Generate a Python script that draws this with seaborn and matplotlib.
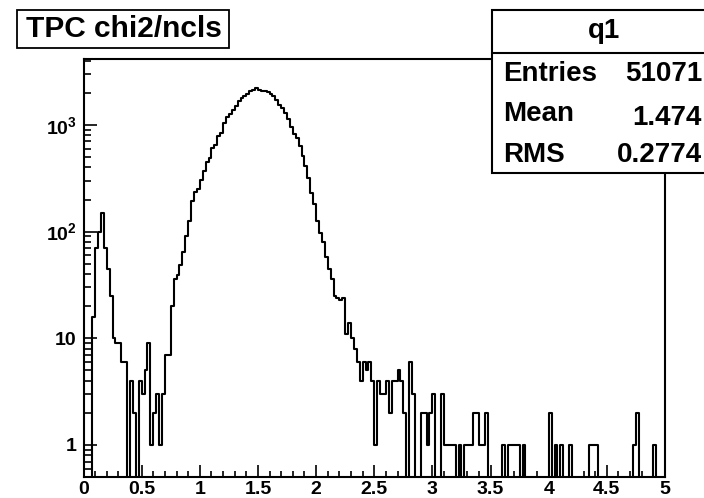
import numpy as np
import pandas as pd
import matplotlib
matplotlib.use("Agg")
import matplotlib.pyplot as plt
import seaborn as sns
from matplotlib.ticker import MultipleLocator, LogLocator, FixedLocator, FixedFormatter, NullFormatter
from matplotlib.patches import Rectangle

# ---------------- data ----------------
x_min, x_max, n_bins = 0.0, 5.0, 200
counts = [
    0, 0, 0, 16, 70, 100, 148, 70, 45, 25,          # 0-9
    10, 9, 9, 6, 6, 0, 4, 2, 0, 4,                  # 10-19
    3, 5, 9, 1, 2, 3, 1, 3, 7, 7,                   # 20-29
    20, 36, 39, 49, 65, 90, 125, 195, 235, 250,     # 30-39
    303, 372, 452, 486, 612, 648, 787, 846, 1035, 1180,      # 40-49
    1260, 1380, 1510, 1660, 1790, 1850, 1960, 2060, 2140, 2200,  # 50-59
    2140, 2090, 2060, 2030, 1950, 1850, 1700, 1530, 1430, 1300,  # 60-69
    1130, 960, 830, 750, 630, 515, 410, 320, 230, 180,      # 70-79
    125, 98, 80, 58, 45, 36, 25, 24, 23, 24,        # 80-89
    11, 14, 10, 8, 6, 4, 6, 5, 6, 4,                # 90-99
    1, 4, 3, 3, 4, 2, 4, 4, 5, 4,                   # 100-109
    2, 0, 6, 3, 0, 0, 2, 2, 1, 2,                   # 110-119
    3, 0, 0, 3, 1, 1, 1, 1, 0, 1,                   # 120-129
    0, 1, 1, 1, 2, 2, 1, 1, 2, 0,                   # 130-139
    0, 0, 0, 0, 1, 0, 1, 1, 1, 1,                   # 140-149
    0, 1, 0, 0, 0, 0, 0, 0, 0, 0,                   # 150-159
    2, 0, 1, 0, 1, 0, 0, 1, 0, 0,                   # 160-169
    0, 0, 0, 0, 1, 1, 1, 0, 0, 0,                   # 170-179
    0, 0, 0, 0, 0, 0, 0, 0, 0, 1,                   # 180-189
    2, 0, 0, 0, 0, 0, 1, 0, 0, 0,                   # 190-199
]
x_ticks = [0, 0.5, 1, 1.5, 2, 2.5, 3, 3.5, 4, 4.5, 5]
x_tick_labels = ["0", "0.5", "1", "1.5", "2", "2.5", "3", "3.5", "4", "4.5", "5"]
y_ticks = [1, 10, 100, 1000]
y_tick_labels = ["1", "10", r"$\mathbf{10^{2}}$", r"$\mathbf{10^{3}}$"]
title_text = "TPC chi2/ncls"
stats_name = "q1"
stats_labels = ["Entries", "Mean", "RMS"]
stats_values = ["51071", "1.474", "0.2774"]

# ---------------- style ----------------
sns.set_theme(style="white")
plt.rcParams["font.family"] = ["Liberation Sans", "DejaVu Sans"]
plt.rcParams["font.weight"] = "bold"
plt.rcParams["mathtext.fontset"] = "custom"
plt.rcParams["mathtext.rm"] = "Liberation Sans:bold"
plt.rcParams["mathtext.bf"] = "Liberation Sans:bold"
plt.rcParams["mathtext.it"] = "Liberation Sans:bold"

W, H = 704, 498
fig = plt.figure(figsize=(W / 100, H / 100), dpi=100)
fig.patch.set_facecolor("white")

L, R, T, B = 83.5, 665.0, 59.0, 477.0
ax = fig.add_axes([L / W, (H - B) / H, (R - L) / W, (B - T) / H])
ax.set_facecolor("white")

bin_width = (x_max - x_min) / n_bins
centers = x_min + bin_width * (np.arange(n_bins) + 0.5)
df = pd.DataFrame({"x": centers, "w": counts})
sns.histplot(data=df, x="x", weights="w", binwidth=bin_width, binrange=(x_min, x_max),
             element="step", fill=False, color="black", linewidth=1.5, ax=ax)
ax.set_yscale("log")
ax.set_xlim(x_min, x_max)
ax.set_ylim(0.501, 4150)
ax.set_xlabel("")
ax.set_ylabel("")

for s in ax.spines.values():
    s.set_color("black")
    s.set_linewidth(1.5)
    s.set_visible(True)

ax.xaxis.set_major_locator(FixedLocator(x_ticks))
ax.xaxis.set_major_formatter(FixedFormatter(x_tick_labels))
ax.xaxis.set_minor_locator(MultipleLocator(0.1))
ax.yaxis.set_major_locator(FixedLocator(y_ticks))
ax.yaxis.set_major_formatter(FixedFormatter(y_tick_labels))
ax.yaxis.set_minor_locator(LogLocator(base=10, subs=np.arange(2, 10) * 1.0, numticks=20))
ax.yaxis.set_minor_formatter(NullFormatter())

ax.tick_params(axis="both", which="both", direction="in", color="black", width=1.2,
               labelsize=14, labelcolor="black")
ax.tick_params(axis="x", which="major", length=8.5, pad=3, top=False, bottom=True)
ax.tick_params(axis="x", which="minor", length=4.5, top=False, bottom=True)
ax.tick_params(axis="y", which="major", length=9.5, pad=5, left=True, right=False)
ax.tick_params(axis="y", which="minor", length=5, left=True, right=False)
for lab in ax.get_xticklabels() + ax.get_yticklabels():
    lab.set_fontweight("bold")

# ---------------- title box ----------------
def fx(px):
    return px / W

def fy(py):
    return (H - py) / H

tb = Rectangle((fx(17), fy(48)), fx(229) - fx(17), fy(10) - fy(48), transform=fig.transFigure,
               facecolor="white", edgecolor="black", linewidth=1.3, zorder=5)
fig.add_artist(tb)
fig.text(fx(124), fy(29), title_text, ha="center", va="center", fontsize=21.5,
         fontweight="bold", color="black", zorder=6)

# ---------------- stats box ----------------
sb = Rectangle((fx(492), fy(173)), fx(716) - fx(492), fy(10) - fy(173), transform=fig.transFigure,
               facecolor="white", edgecolor="black", linewidth=1.5, zorder=5, clip_on=False)
fig.add_artist(sb)
fig.add_artist(plt.Line2D([fx(492), fx(716)], [fy(53), fy(53)], transform=fig.transFigure,
                          color="black", linewidth=1.5, zorder=6))
fig.text(fx(604), fy(31), stats_name, ha="center", va="center", fontsize=20,
         fontweight="bold", color="black", zorder=7)
row_y = [74, 114, 155]
val_y = [74, 118, 155]
for lbl, val, ly, vy in zip(stats_labels, stats_values, row_y, val_y):
    fig.text(fx(503), fy(ly), lbl, ha="left", va="center", fontsize=20,
             fontweight="bold", color="black", zorder=7)
    fig.text(fx(702), fy(vy), val, ha="right", va="center", fontsize=20,
             fontweight="bold", color="black", zorder=7)

fig.savefig("out.png", dpi=100, facecolor="white")
